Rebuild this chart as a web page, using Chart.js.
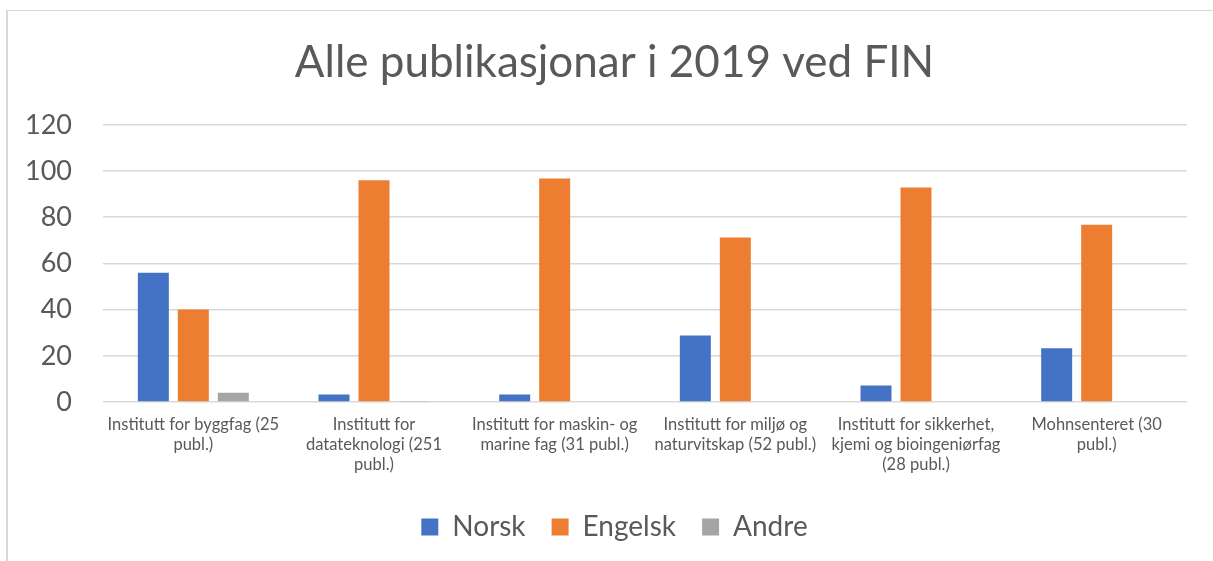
<!DOCTYPE html>
<html>
<head>
<meta charset="utf-8">
<script src="https://cdn.jsdelivr.net/npm/chart.js@4"></script>
<style>
  html, body { margin: 0; padding: 0; background: #fff; overflow: hidden; }
  #frame {
    position: absolute; left: 6px; top: 10px; width: 1300px; height: 600px;
    border-left: 2px solid #d9d9d9; border-top: 1px solid #d9d9d9;
  }
  #wrap { position: absolute; left: 8px; top: 11px; width: 1205px; height: 550px; }
</style>
</head>
<body>
<div id="frame"></div>
<div id="wrap"><canvas id="chart"></canvas></div>
<script>
// Data (share of publications in %, per department)
const categories = [
  ['Institutt for byggfag (25', 'publ.)'],
  ['Institutt for', 'datateknologi (251', 'publ.)'],
  ['Institutt for maskin- og', 'marine fag (31 publ.)'],
  ['Institutt for miljø og', 'naturvitskap (52 publ.)'],
  ['Institutt for sikkerhet,', 'kjemi og bioingeniørfag', '(28 publ.)'],
  ['Mohnsenteret (30', 'publ.)']
];
const norsk = [56, 3.2, 3.2, 28.8, 7.1, 23.3];
const engelsk = [40, 96, 96.8, 71.2, 92.9, 76.7];
const andre = [4, 0.4, 0, 0, 0, 0];
const yTicks = { min: 0, max: 120, step: 20 };

const textColor = '#595959';
const font = 'Lato, "Open Sans", sans-serif';

const ctx = document.getElementById('chart').getContext('2d');
new Chart(ctx, {
  type: 'bar',
  data: {
    labels: categories,
    datasets: [
      { label: 'Norsk', data: norsk, backgroundColor: '#4472C4' },
      { label: 'Engelsk', data: engelsk, backgroundColor: '#ED7D31' },
      { label: 'Andre', data: andre, backgroundColor: '#A5A5A5' }
    ]
  },
  options: {
    responsive: true,
    maintainAspectRatio: false,
    animation: false,
    categoryPercentage: 0.664,
    barPercentage: 0.775,
    layout: { padding: { left: 8, right: 0, top: 0, bottom: 10 } },
    plugins: {
      title: {
        display: true,
        text: 'Alle publikasjonar i 2019 ved FIN',
        color: textColor,
        font: { family: font, size: 44, weight: 'normal' },
        padding: { top: 25, bottom: 36 }
      },
      legend: {
        position: 'bottom',
        labels: {
          color: textColor,
          font: { family: font, size: 28 },
          boxWidth: 17,
          boxHeight: 17,
          padding: 26
        }
      },
      tooltip: { enabled: false }
    },
    scales: {
      x: {
        grid: { display: false, drawTicks: false },
        border: { display: false },
        afterFit: (scale) => { scale.height = 85; },
        ticks: {
          color: textColor,
          font: { family: font, size: 16.5, lineHeight: 1.21 },
          maxRotation: 0,
          autoSkip: false,
          padding: 13
        }
      },
      y: {
        min: yTicks.min,
        max: yTicks.max,
        afterFit: (scale) => { scale.width = 87; },
        grid: { color: '#d9d9d9', lineWidth: 1.5, drawTicks: false },
        border: { display: false },
        ticks: {
          stepSize: yTicks.step,
          color: textColor,
          font: { family: font, size: 27 },
          padding: 31
        }
      },
      // empty right-hand spacer so the plot ends before the frame edge
      yr: {
        position: 'right',
        grid: { display: false },
        border: { display: false },
        ticks: { display: false },
        afterFit: (scale) => { scale.width = 26; }
      }
    }
  }
});
</script>
</body>
</html>
